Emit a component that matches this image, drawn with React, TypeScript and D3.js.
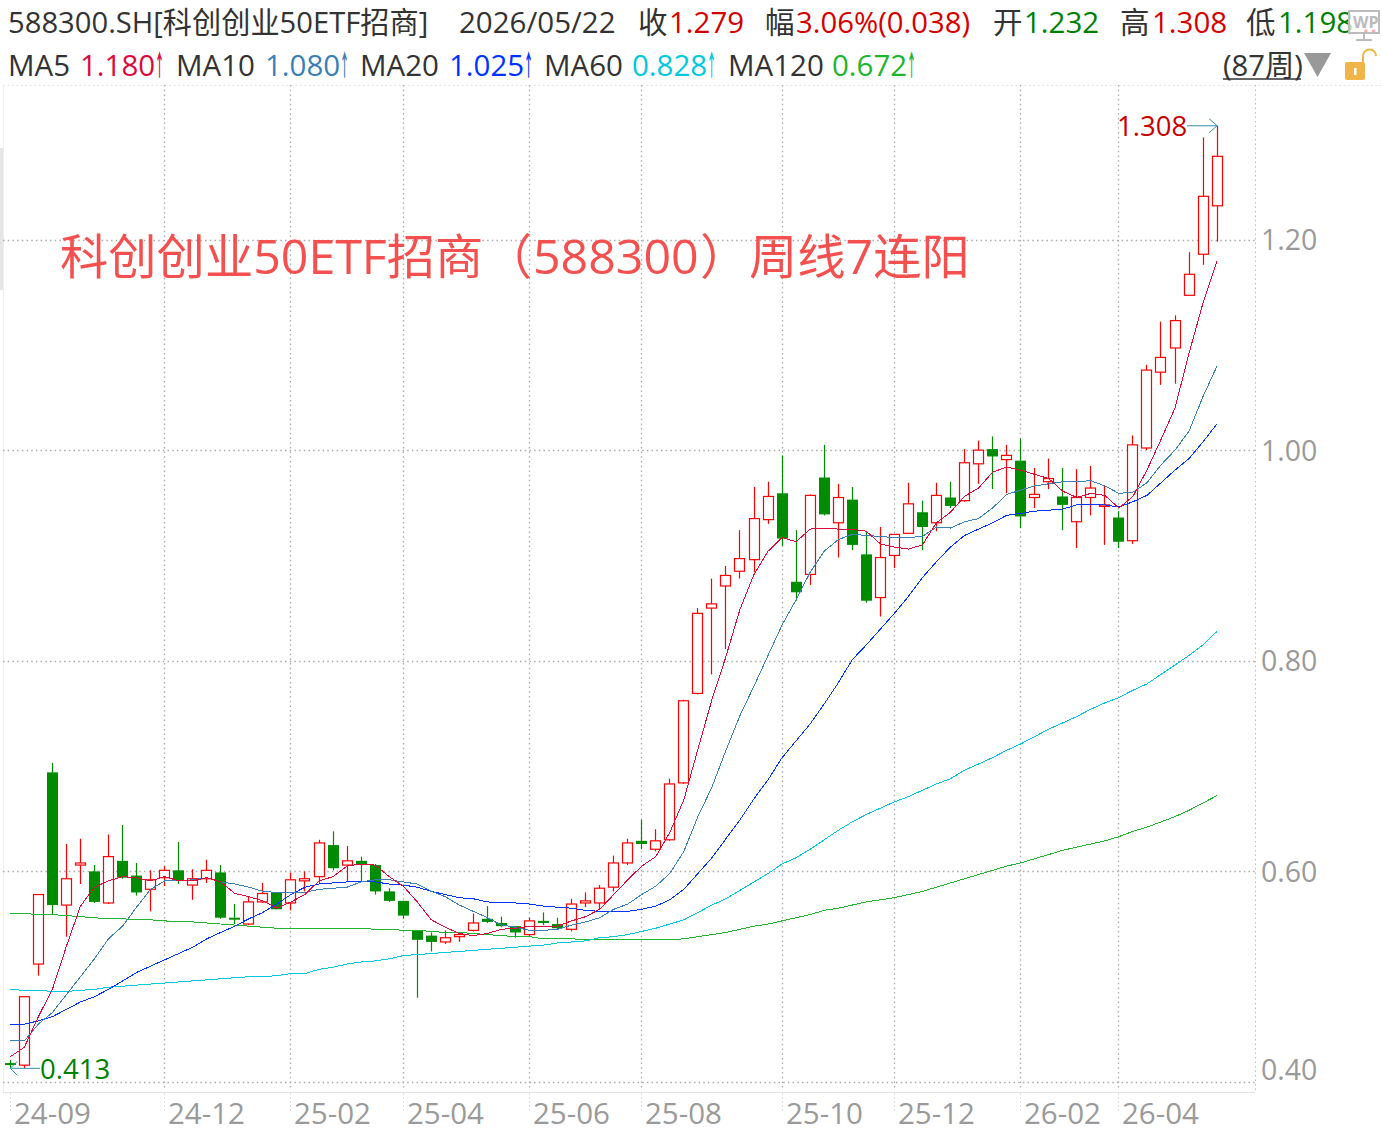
import React from 'react';
import * as d3 from 'd3';

const opens = [.418,.416,.512,.694,.568,.606,.600,.570,.610,.596,.583,.594,.601,.587,.593,.599,.556,.550,.571,.580,.570,.591,.595,.625,.606,.610,.606,.581,.572,.544,.539,.533,.538,.544,.555,.551,.548,.540,.553,.550,.545,.570,.570,.585,.608,.629,.621,.630,.684,.769,.850,.871,.885,.896,.934,.959,.875,.882,.974,.931,.953,.901,.860,.900,.921,.941,.931,.955,.952,.987,1.001,.991,.990,.955,.970,.956,.932,.955,.947,.936,.914,1.002,1.074,1.097,1.147,1.186,1.232];
const highs = [.421,.481,.578,.703,.626,.631,.606,.635,.644,.608,.601,.605,.628,.602,.611,.606,.569,.576,.589,.580,.599,.600,.630,.638,.624,.614,.607,.584,.572,.544,.542,.544,.541,.560,.567,.557,.548,.556,.561,.556,.574,.580,.587,.615,.631,.649,.640,.688,.763,.850,.878,.890,.924,.965,.970,.995,.924,.958,1.005,.968,.965,.923,.927,.920,.969,.952,.969,.970,1.001,1.009,1.013,1.005,1.011,.983,.992,.983,.982,.985,.966,.942,1.014,1.081,1.122,1.128,1.188,1.297,1.308];
const lows = [.413,.413,.501,.559,.538,.588,.570,.569,.593,.577,.562,.586,.588,.573,.589,.555,.550,.549,.570,.564,.563,.581,.589,.601,.591,.590,.578,.571,.555,.480,.524,.531,.533,.543,.551,.547,.537,.538,.549,.545,.543,.566,.564,.581,.606,.621,.619,.629,.683,.768,.787,.811,.878,.884,.930,.909,.857,.872,.938,.898,.905,.855,.842,.888,.921,.905,.923,.945,.951,.968,.963,.959,.926,.945,.963,.924,.907,.938,.910,.907,.911,1.000,1.062,1.063,1.147,1.176,1.198];
const closes = [.417,.481,.578,.568,.593,.608,.571,.614,.594,.580,.592,.601,.591,.593,.601,.556,.555,.571,.579,.564,.592,.593,.627,.603,.610,.606,.581,.572,.558,.535,.533,.537,.540,.551,.552,.548,.542,.553,.551,.546,.569,.572,.584,.608,.627,.626,.629,.683,.762,.845,.854,.881,.897,.935,.956,.916,.865,.957,.939,.955,.910,.857,.898,.920,.949,.927,.957,.947,.988,1.000,.994,.995,.937,.958,.973,.948,.955,.964,.948,.913,1.005,1.076,1.088,1.123,1.167,1.241,1.279];

const ma5 = [.424,.433,.462,.488,.529,.567,.585,.591,.595,.594,.591,.595,.591,.591,.594,.590,.579,.576,.572,.565,.571,.578,.591,.595,.605,.607,.606,.595,.586,.571,.554,.547,.541,.539,.541,.545,.546,.548,.548,.548,.553,.557,.564,.578,.592,.605,.614,.637,.668,.716,.763,.804,.849,.882,.904,.917,.913,.925,.926,.925,.925,.923,.911,.908,.906,.910,.931,.941,.956,.964,.979,.984,.981,.977,.973,.961,.955,.959,.957,.945,.956,.981,1.010,1.040,1.092,1.140,1.180];
const ma10 = [.439,.439,.455,.466,.483,.500,.517,.536,.548,.566,.583,.591,.591,.592,.594,.590,.588,.585,.581,.580,.580,.580,.583,.584,.585,.590,.592,.592,.590,.588,.581,.576,.568,.562,.556,.549,.547,.544,.544,.545,.549,.552,.556,.564,.569,.578,.586,.598,.619,.652,.680,.715,.748,.776,.805,.834,.858,.884,.904,.915,.920,.919,.918,.917,.917,.918,.927,.926,.932,.935,.945,.958,.962,.966,.968,.970,.970,.971,.966,.959,.960,.969,.986,1.000,1.018,1.051,1.080];
const ma20 = [.455,.455,.458,.462,.469,.476,.481,.488,.496,.504,.510,.516,.522,.528,.536,.542,.548,.555,.561,.569,.578,.585,.588,.589,.590,.590,.590,.588,.587,.585,.581,.578,.575,.574,.571,.570,.570,.569,.567,.566,.565,.563,.562,.562,.562,.564,.567,.573,.583,.598,.613,.631,.649,.669,.687,.708,.724,.740,.759,.779,.801,.815,.830,.845,.861,.879,.894,.908,.919,.925,.931,.938,.940,.942,.943,.944,.948,.948,.948,.946,.951,.957,.969,.981,.992,1.008,1.025];
const ma60 = [.488,.487,.487,.486,.486,.487,.488,.490,.491,.492,.493,.494,.495,.496,.497,.498,.499,.500,.500,.501,.503,.503,.507,.509,.512,.514,.515,.517,.520,.521,.522,.523,.524,.525,.526,.527,.528,.529,.530,.532,.533,.534,.537,.538,.540,.543,.546,.550,.554,.561,.568,.574,.582,.590,.598,.607,.613,.621,.630,.639,.647,.654,.660,.666,.671,.677,.683,.688,.696,.702,.708,.715,.721,.728,.735,.741,.747,.754,.760,.765,.772,.778,.787,.796,.805,.815,.828];
const ma120 = [.560,.560,.559,.559,.558,.557,.556,.555,.555,.554,.554,.553,.552,.552,.551,.550,.549,.548,.547,.546,.546,.546,.546,.546,.546,.546,.545,.545,.544,.544,.543,.542,.542,.541,.540,.539,.538,.538,.536,.536,.536,.535,.535,.535,.535,.535,.535,.535,.536,.538,.540,.542,.545,.548,.550,.553,.556,.559,.563,.565,.568,.571,.573,.575,.578,.581,.585,.589,.593,.597,.601,.605,.608,.612,.616,.620,.623,.626,.629,.633,.638,.642,.647,.652,.658,.665,.672];

const priceTicks = [1.2, 1.0, 0.8, 0.6, 0.4];
const dateLabels = ['24-09', '24-12', '25-02', '25-04', '25-06', '25-08', '25-10', '25-12', '26-02', '26-04'];
const dateIndex = [0, 11, 20, 28, 37, 45, 55, 63, 72, 79];

const UP = '#ff0000';
const DOWN = '#008c00';
const TEXT = '#333333';
const AXIS = '#9a9a9a';
const FONT = '"Open Sans", "Noto Sans CJK SC", sans-serif';

const maSeries = [
  { values: ma120, color: '#1fb52f' },
  { values: ma60, color: '#00c8e0' },
  { values: ma20, color: '#0033ff' },
  { values: ma10, color: '#3a7fb8' },
  { values: ma5, color: '#dc0a3c' },
];

const headerTop = [
  { x: 8, text: '588300.SH[科创创业50ETF招商]', fill: TEXT, size: 29.2 },
  { x: 459, text: '2026/05/22', fill: TEXT, size: 29.5 },
  { x: 638, text: '收', fill: TEXT, size: 29.5 },
  { x: 669, text: '1.279', fill: '#d40000', size: 29.5 },
  { x: 765, text: '幅', fill: TEXT, size: 29.5 },
  { x: 796, text: '3.06%(0.038)', fill: '#d40000', size: 29.3 },
  { x: 993, text: '开', fill: TEXT, size: 29.5 },
  { x: 1024, text: '1.232', fill: '#008000', size: 29.5 },
  { x: 1120, text: '高', fill: TEXT, size: 29.5 },
  { x: 1152, text: '1.308', fill: '#d40000', size: 29.5 },
  { x: 1246, text: '低', fill: TEXT, size: 29.5 },
  { x: 1278, text: '1.198', fill: '#008000', size: 29.5 },
];

const headerMa = [
  { x: 8, label: 'MA5', vx: 80, value: '1.180', fill: '#dc0a3c' },
  { x: 176, label: 'MA10', vx: 265, value: '1.080', fill: '#3a7fb8' },
  { x: 360, label: 'MA20', vx: 449, value: '1.025', fill: '#0033ff' },
  { x: 544, label: 'MA60', vx: 632, value: '0.828', fill: '#00c8e0' },
  { x: 728, label: 'MA120', vx: 832, value: '0.672', fill: '#1fb52f' },
];

const annotation = [
  { x: 60, text: '科创创业50ETF招商' },
  { x: 484, text: '（' },
  { x: 533, text: '588300' },
  { x: 700, text: '）' },
  { x: 749, text: '周线7连阳' },
];

const x = d3.scaleLinear().domain([0, opens.length - 1]).range([10.3, 1217.1]);
const y = d3.scaleLinear().domain([0.4, 1.2]).range([1082, 239.5]);

const snap = (v: number) => Math.floor(v) + 0.5;

const maLine = d3
  .line<number>()
  .x((_, i) => x(i))
  .y((d) => y(d));

const App = () => {
  const bodyW = 10;
  const hiY = y(1.308);
  const loY = y(0.413);

  return (
    <svg
      width={1382}
      height={1134}
      viewBox='0 0 1382 1134'
      style={{ position: 'absolute', left: 0, top: 0, display: 'block', background: '#fff' }}
      fontFamily={FONT}
    >
      {/* frame */}
      <rect x={0} y={148} width={3} height={142} fill='#e6e6e6' />
      <line x1={3.5} x2={3.5} y1={85} y2={1092} stroke='#eeeeee' />
      <line x1={3} x2={1382} y1={85.5} y2={85.5} stroke='#dddddd' strokeDasharray='1.5 3' />
      <line x1={3} x2={1255} y1={1092.5} y2={1092.5} stroke='#e2e2e2' />
      <line x1={1255.5} x2={1255.5} y1={85} y2={1092} stroke='#bbbbbb' strokeDasharray='1.5 3' />

      {/* grid */}
      {priceTicks.map((t) => (
        <line
          key={t}
          x1={3}
          x2={1255}
          y1={Math.round(y(t)) + 0.5}
          y2={Math.round(y(t)) + 0.5}
          stroke='#aaaaaa'
          strokeWidth={1.3}
          strokeDasharray='1.5 3.2'
        />
      ))}
      {dateIndex.slice(1).map((i) => (
        <line
          key={i}
          x1={snap(x(i))}
          x2={snap(x(i))}
          y1={85}
          y2={1089}
          stroke='#aaaaaa'
          strokeWidth={1.3}
          strokeDasharray='1.5 3.2'
        />
      ))}
      {dateIndex.map((i) => (
        <line
          key={i}
          x1={snap(x(i))}
          x2={snap(x(i))}
          y1={1093}
          y2={1112}
          stroke='#dddddd'
          strokeDasharray='2 2'
        />
      ))}

      {/* candles */}
      {opens.map((o, i) => {
        const c = closes[i];
        const up = c >= o;
        const color = up ? UP : DOWN;
        const cx = snap(x(i));
        const top = y(Math.max(o, c));
        const bottom = y(Math.min(o, c));
        return (
          <g key={i}>
            <line x1={cx} x2={cx} y1={y(highs[i])} y2={y(lows[i])} stroke={color} strokeWidth={1.2} />
            {up ? (
              <rect
                x={cx - bodyW / 2}
                y={top}
                width={bodyW}
                height={Math.max(bottom - top, 1.5)}
                fill='#fff'
                stroke={color}
                strokeWidth={1.2}
              />
            ) : (
              <rect
                x={cx - bodyW / 2 - 0.5}
                y={top}
                width={bodyW + 1}
                height={Math.max(bottom - top, 2)}
                fill={color}
              />
            )}
          </g>
        );
      })}

      {/* moving averages */}
      {maSeries.map((s) => (
        <path
          key={s.color}
          d={maLine(s.values) || ''}
          fill='none'
          stroke={s.color}
          strokeWidth={1}
          shapeRendering='crispEdges'
        />
      ))}

      {/* extreme labels */}
      <text x={1117} y={hiY + 10} fontSize={27.5} fill='#c80000'>1.308</text>
      <path
        d={`M1187,${hiY}H${x(86)}M${x(86) - 8},${hiY - 7}L${x(86)},${hiY}L${x(86) - 8},${hiY + 7}`}
        fill='none'
        stroke='#2f8fa8'
      />
      <text x={40} y={loY + 11} fontSize={27.5} fill='#008000'>0.413</text>
      <path
        d={`M40,${loY}H${x(0)}M${x(0) + 7},${loY - 7}L${x(0)},${loY}L${x(0) + 7},${loY + 7}`}
        fill='none'
        stroke='#2f8fa8'
      />

      {/* annotation */}
      {annotation.map((a) => (
        <text key={a.x} x={a.x} y={274} fontSize={48.3} fill='#f4504f'>{a.text}</text>
      ))}

      {/* price axis */}
      {priceTicks.map((t) => (
        <text key={t} x={1261} y={t === 0.4 ? 1080 : y(t) + 10.5} fontSize={28.5} fill={AXIS}>
          {d3.format('.2f')(t)}
        </text>
      ))}

      {/* date axis */}
      {dateLabels.map((d, i) => (
        <text key={d} x={snap(x(dateIndex[i])) + 3.5} y={1124} fontSize={29.5} fill={AXIS}>
          {d}
        </text>
      ))}

      {/* header */}
      {headerTop.map((h) => (
        <text key={h.x} x={h.x} y={33} fontSize={h.size} fill={h.fill}>{h.text}</text>
      ))}
      <text x={1362} y={33} fontSize={29.5} fill='#d40000'>..</text>
      {headerMa.map((h) => (
        <g key={h.x}>
          <text x={h.x} y={76} fontSize={29.5} fill={TEXT}>{h.label}</text>
          <text x={h.vx} y={76} fontSize={29.5} fill={h.fill}>{h.value}</text>
          <text
            transform={`translate(${h.vx + 79.5},76) scale(0.33,1)`}
            textAnchor='middle'
            fontFamily='"Noto Sans CJK SC"'
            fontWeight={700}
            fontSize={29}
            fill={h.fill}
          >
            ↑
          </text>
        </g>
      ))}
      <text x={1223} y={76} fontSize={29.2} fill={TEXT}>(87周)</text>
      <line x1={1223} x2={1301} y1={79} y2={79} stroke={TEXT} strokeWidth={1.5} />
      <path d='M1304,53H1331L1317.5,77Z' fill='#999999' />

      {/* lock */}
      <rect x={1345} y={62} width={20} height={18} rx={2} fill='#f0b548' />
      <rect x={1354} y={68} width={2.5} height={7} fill='#fff' />
      <path d='M1363,62V56a6,6 0 0 1 13,0' fill='none' stroke='#f0b548' strokeWidth={2} />

      {/* WP badge */}
      <rect x={1349} y={11} width={30} height={22} fill='#fff' fillOpacity={0.7} stroke='#bbbbbb' strokeWidth={2} />
      <text x={1353} y={28} fontSize={16} fontWeight={700} fill='#bbbbbb'>WP</text>
      <path d='M1364,33V39M1356,40H1372' fill='none' stroke='#bbbbbb' strokeWidth={2} />
    </svg>
  );
};

export default App;
